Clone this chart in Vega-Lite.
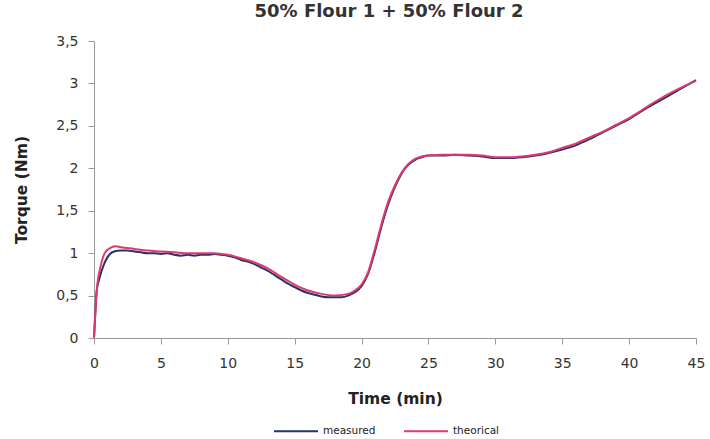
{
  "$schema": "https://vega.github.io/schema/vega-lite/v6.json",
  "autosize": "none",
  "width": 602,
  "height": 297,
  "padding": {"left": 94, "top": 41, "right": 14, "bottom": 101},
  "background": "white",
  "title": {
    "text": "50% Flour 1 + 50% Flour 2",
    "font": "DejaVu Sans",
    "fontSize": 18,
    "fontWeight": "bold",
    "color": "#333333",
    "anchor": "middle",
    "dx": -6,
    "offset": 13
  },
  "config": {
    "view": {"stroke": null},
    "axis": {
      "grid": false,
      "domainColor": "#9a9a9a",
      "tickColor": "#9a9a9a",
      "tickSize": 6,
      "labelFont": "DejaVu Sans",
      "labelFontSize": 14,
      "labelColor": "#333333",
      "titleFont": "DejaVu Sans",
      "titleFontSize": 15.5,
      "titleFontWeight": "bold",
      "titleColor": "#222222"
    }
  },
  "data": {
    "values": [
      {"t": 0, "v": 0, "s": "measured"},
      {"t": 0.1, "v": 0.3, "s": "measured"},
      {"t": 0.2, "v": 0.55, "s": "measured"},
      {"t": 0.4, "v": 0.7, "s": "measured"},
      {"t": 0.7, "v": 0.85, "s": "measured"},
      {"t": 1.0, "v": 0.95, "s": "measured"},
      {"t": 1.5, "v": 1.02, "s": "measured"},
      {"t": 2, "v": 1.03, "s": "measured"},
      {"t": 2.5, "v": 1.03, "s": "measured"},
      {"t": 3, "v": 1.02, "s": "measured"},
      {"t": 3.5, "v": 1.01, "s": "measured"},
      {"t": 4, "v": 1.0, "s": "measured"},
      {"t": 4.5, "v": 1.0, "s": "measured"},
      {"t": 5, "v": 0.99, "s": "measured"},
      {"t": 5.5, "v": 1.0, "s": "measured"},
      {"t": 6, "v": 0.98, "s": "measured"},
      {"t": 6.5, "v": 0.97, "s": "measured"},
      {"t": 7, "v": 0.98, "s": "measured"},
      {"t": 7.5, "v": 0.97, "s": "measured"},
      {"t": 8, "v": 0.98, "s": "measured"},
      {"t": 8.5, "v": 0.98, "s": "measured"},
      {"t": 9, "v": 0.99, "s": "measured"},
      {"t": 9.5, "v": 0.98, "s": "measured"},
      {"t": 10, "v": 0.97, "s": "measured"},
      {"t": 10.5, "v": 0.95, "s": "measured"},
      {"t": 11, "v": 0.92, "s": "measured"},
      {"t": 11.5, "v": 0.9, "s": "measured"},
      {"t": 12, "v": 0.87, "s": "measured"},
      {"t": 12.5, "v": 0.83, "s": "measured"},
      {"t": 13, "v": 0.79, "s": "measured"},
      {"t": 13.5, "v": 0.74, "s": "measured"},
      {"t": 14, "v": 0.69, "s": "measured"},
      {"t": 14.5, "v": 0.64, "s": "measured"},
      {"t": 15, "v": 0.6, "s": "measured"},
      {"t": 15.5, "v": 0.56, "s": "measured"},
      {"t": 16, "v": 0.53, "s": "measured"},
      {"t": 16.5, "v": 0.51, "s": "measured"},
      {"t": 17, "v": 0.49, "s": "measured"},
      {"t": 17.5, "v": 0.48, "s": "measured"},
      {"t": 18, "v": 0.48, "s": "measured"},
      {"t": 18.5, "v": 0.48, "s": "measured"},
      {"t": 19, "v": 0.5, "s": "measured"},
      {"t": 19.5, "v": 0.54, "s": "measured"},
      {"t": 20, "v": 0.61, "s": "measured"},
      {"t": 20.5, "v": 0.76, "s": "measured"},
      {"t": 21, "v": 1.02, "s": "measured"},
      {"t": 21.5, "v": 1.32, "s": "measured"},
      {"t": 22, "v": 1.58, "s": "measured"},
      {"t": 22.5, "v": 1.78, "s": "measured"},
      {"t": 23, "v": 1.94, "s": "measured"},
      {"t": 23.5, "v": 2.04, "s": "measured"},
      {"t": 24, "v": 2.1, "s": "measured"},
      {"t": 24.5, "v": 2.13, "s": "measured"},
      {"t": 25, "v": 2.15, "s": "measured"},
      {"t": 26, "v": 2.15, "s": "measured"},
      {"t": 27, "v": 2.16, "s": "measured"},
      {"t": 28, "v": 2.15, "s": "measured"},
      {"t": 29, "v": 2.14, "s": "measured"},
      {"t": 30, "v": 2.12, "s": "measured"},
      {"t": 31, "v": 2.12, "s": "measured"},
      {"t": 32, "v": 2.13, "s": "measured"},
      {"t": 33, "v": 2.15, "s": "measured"},
      {"t": 34, "v": 2.18, "s": "measured"},
      {"t": 35, "v": 2.22, "s": "measured"},
      {"t": 36, "v": 2.27, "s": "measured"},
      {"t": 37, "v": 2.34, "s": "measured"},
      {"t": 38, "v": 2.42, "s": "measured"},
      {"t": 39, "v": 2.5, "s": "measured"},
      {"t": 40, "v": 2.58, "s": "measured"},
      {"t": 41, "v": 2.68, "s": "measured"},
      {"t": 42, "v": 2.77, "s": "measured"},
      {"t": 43, "v": 2.86, "s": "measured"},
      {"t": 44, "v": 2.95, "s": "measured"},
      {"t": 45, "v": 3.04, "s": "measured"},
      {"t": 0, "v": 0, "s": "theorical"},
      {"t": 0.1, "v": 0.3, "s": "theorical"},
      {"t": 0.2, "v": 0.55, "s": "theorical"},
      {"t": 0.5, "v": 0.85, "s": "theorical"},
      {"t": 0.8, "v": 1.0, "s": "theorical"},
      {"t": 1.2, "v": 1.06, "s": "theorical"},
      {"t": 1.6, "v": 1.08, "s": "theorical"},
      {"t": 2, "v": 1.07, "s": "theorical"},
      {"t": 3, "v": 1.05, "s": "theorical"},
      {"t": 4, "v": 1.03, "s": "theorical"},
      {"t": 5, "v": 1.02, "s": "theorical"},
      {"t": 6, "v": 1.01, "s": "theorical"},
      {"t": 7, "v": 1.0, "s": "theorical"},
      {"t": 8, "v": 1.0, "s": "theorical"},
      {"t": 9, "v": 1.0, "s": "theorical"},
      {"t": 10, "v": 0.98, "s": "theorical"},
      {"t": 11, "v": 0.94, "s": "theorical"},
      {"t": 12, "v": 0.89, "s": "theorical"},
      {"t": 13, "v": 0.82, "s": "theorical"},
      {"t": 14, "v": 0.72, "s": "theorical"},
      {"t": 15, "v": 0.63, "s": "theorical"},
      {"t": 16, "v": 0.56, "s": "theorical"},
      {"t": 17, "v": 0.52, "s": "theorical"},
      {"t": 18, "v": 0.5, "s": "theorical"},
      {"t": 19, "v": 0.52, "s": "theorical"},
      {"t": 19.5, "v": 0.56, "s": "theorical"},
      {"t": 20, "v": 0.63, "s": "theorical"},
      {"t": 20.5, "v": 0.78, "s": "theorical"},
      {"t": 21, "v": 1.05, "s": "theorical"},
      {"t": 21.5, "v": 1.35, "s": "theorical"},
      {"t": 22, "v": 1.61, "s": "theorical"},
      {"t": 22.5, "v": 1.8, "s": "theorical"},
      {"t": 23, "v": 1.95, "s": "theorical"},
      {"t": 23.5, "v": 2.05, "s": "theorical"},
      {"t": 24, "v": 2.11, "s": "theorical"},
      {"t": 24.5, "v": 2.14, "s": "theorical"},
      {"t": 25, "v": 2.15, "s": "theorical"},
      {"t": 26, "v": 2.16, "s": "theorical"},
      {"t": 27, "v": 2.16, "s": "theorical"},
      {"t": 28, "v": 2.16, "s": "theorical"},
      {"t": 29, "v": 2.15, "s": "theorical"},
      {"t": 30, "v": 2.13, "s": "theorical"},
      {"t": 31, "v": 2.13, "s": "theorical"},
      {"t": 32, "v": 2.14, "s": "theorical"},
      {"t": 33, "v": 2.16, "s": "theorical"},
      {"t": 34, "v": 2.19, "s": "theorical"},
      {"t": 35, "v": 2.24, "s": "theorical"},
      {"t": 36, "v": 2.29, "s": "theorical"},
      {"t": 37, "v": 2.36, "s": "theorical"},
      {"t": 38, "v": 2.43, "s": "theorical"},
      {"t": 39, "v": 2.51, "s": "theorical"},
      {"t": 40, "v": 2.59, "s": "theorical"},
      {"t": 41, "v": 2.69, "s": "theorical"},
      {"t": 42, "v": 2.79, "s": "theorical"},
      {"t": 43, "v": 2.88, "s": "theorical"},
      {"t": 44, "v": 2.96, "s": "theorical"},
      {"t": 45, "v": 3.03, "s": "theorical"}
    ]
  },
  "mark": {"type": "line", "strokeWidth": 2, "interpolate": "monotone"},
  "encoding": {
    "x": {
      "field": "t",
      "type": "quantitative",
      "scale": {"domain": [0, 45], "nice": false},
      "axis": {
        "title": "Time (min)",
        "values": [0, 5, 10, 15, 20, 25, 30, 35, 40, 45],
        "labelPadding": 12,
        "titlePadding": 21,
        "labelFlush": false
      }
    },
    "y": {
      "field": "v",
      "type": "quantitative",
      "scale": {"domain": [0, 3.5], "nice": false},
      "axis": {
        "title": "Torque (Nm)",
        "values": [0, 0.5, 1, 1.5, 2, 2.5, 3, 3.5],
        "labelExpr": "replace(toString(datum.value), '.', ',')",
        "labelPadding": 10,
        "titlePadding": 26
      }
    },
    "color": {
      "field": "s",
      "type": "nominal",
      "scale": {"domain": ["measured", "theorical"], "range": ["#27336a", "#e0386a"]},
      "legend": {
        "title": null,
        "orient": "none",
        "direction": "horizontal",
        "legendX": 179,
        "legendY": 367,
        "symbolType": "stroke",
        "symbolSize": 1936,
        "symbolStrokeWidth": 2,
        "labelFont": "DejaVu Sans",
        "labelFontSize": 10.5,
        "labelColor": "#222222",
        "labelOffset": 4,
        "columnPadding": 24
      }
    }
  }
}
